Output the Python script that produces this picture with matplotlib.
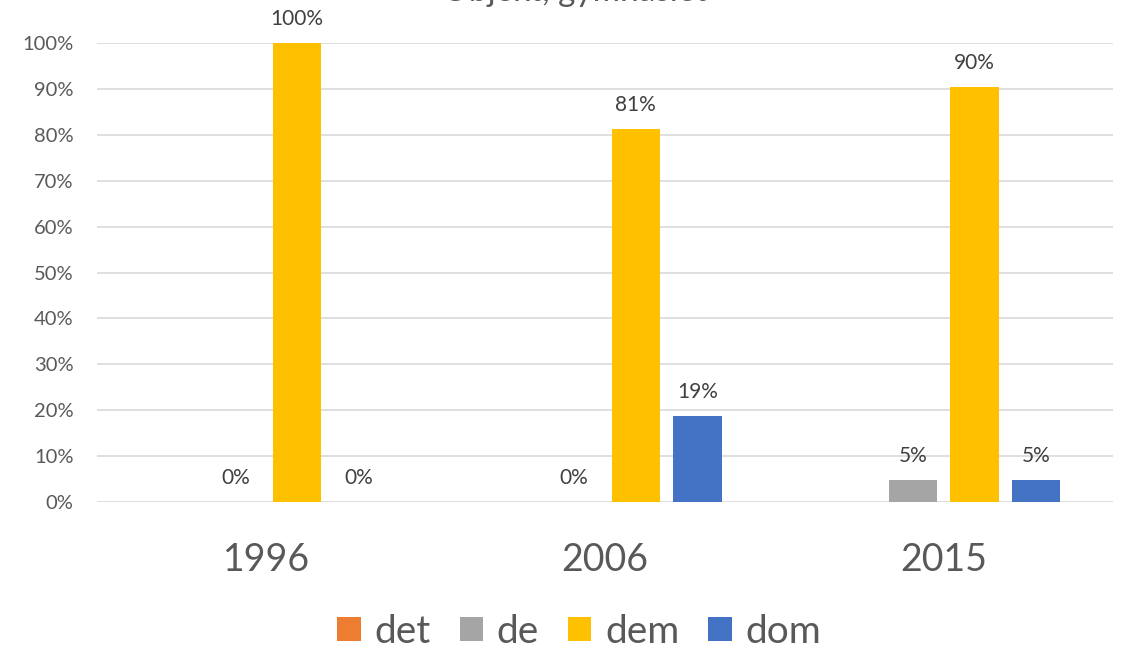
import numpy as np
import matplotlib
matplotlib.use("Agg")
import matplotlib.pyplot as plt

# --- data ---
years = ["1996", "2006", "2015"]
series = ["det", "de", "dem", "dom"]
det = [np.nan, np.nan, np.nan]
de = [0.0, 0.0, 0.0476]
dem = [1.0, 0.8125, 0.9048]
dom = [0.0, 0.1875, 0.0476]
colors = ["#ED7D31", "#A5A5A5", "#FFC000", "#4472C4"]
title = "Objekt, gymnasiet"

plt.rcParams['font.family'] = ['Lato', 'DejaVu Sans']
txt = "#595959"

fig = plt.figure(figsize=(11.27, 6.52), dpi=100)
ax = fig.add_axes([97 / 1127, 1 - 502 / 652, 1016 / 1127, 459 / 652])

x = np.arange(len(years))
step = 0.182
width = 0.142
for i, (name, vals, c) in enumerate(zip(series, [det, de, dem, dom], colors)):
    pos = x + (i - 1.5) * step
    ax.bar(pos, vals, width=width, color=c, label=name, zorder=3)
    for p, v in zip(pos, vals):
        if np.isnan(v):
            continue
        ax.text(p, v + 0.03, f"{v:.0%}", ha="center", va="bottom",
                fontsize=15, color="#404040", clip_on=False)

ax.set_xlim(-0.5, len(years) - 0.5)
ax.set_ylim(0, 1)
ax.set_yticks(np.arange(0, 1.01, 0.1))
ax.set_yticklabels([f"{int(round(t * 100))}%" for t in np.arange(0, 1.01, 0.1)],
                   fontsize=14.5, color=txt)
ax.set_xticks(x)
ax.set_xticklabels(years, fontsize=27, color=txt)
ax.tick_params(axis="both", length=0)
ax.tick_params(axis="x", pad=29)
ax.tick_params(axis="y", pad=17)
ax.grid(axis="y", color="#D9D9D9", linewidth=1.2, zorder=0)
for s in ax.spines.values():
    s.set_visible(False)

fig.text(0.51, 0.9985, title, ha="center", va="baseline", fontsize=24, color=txt)

fig.legend(loc="center", bbox_to_anchor=(0.514, 0.031), ncol=4, frameon=False,
           fontsize=28, labelcolor=txt, handlelength=0.6, handleheight=0.6,
           handletextpad=0.35, columnspacing=0.75)

fig.savefig("out.png", dpi=100, facecolor="white")
